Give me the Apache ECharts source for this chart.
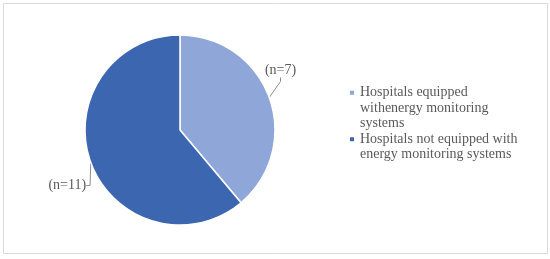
<!DOCTYPE html>
<html>
<head>
<meta charset="utf-8">
<script src="https://cdn.jsdelivr.net/npm/echarts@6/dist/echarts.min.js"></script>
<style>
  html, body { margin: 0; padding: 0; background: #fff; }
  #main { width: 550px; height: 259px; }
</style>
</head>
<body>
<div id="main"></div>
<script>
var myChart = echarts.init(document.getElementById('main'));

// data
var categories = [
  'Hospitals equipped\nwithenergy monitoring\nsystems',
  'Hospitals not equipped with\nenergy monitoring systems'
];
var counts = [7, 11];
var sliceLabels = ['(n=7)', '(n=11)'];
var colors = ['#8FA6D9', '#3D66B0'];

var fontFamily = '"Liberation Serif", serif';
var lineH = 15.5;

var pieData = categories.map(function (name, i) {
  return { name: name, value: counts[i], itemStyle: { color: colors[i] } };
});

// one legend per item; blank lines on top keep the square on the first line
function legendFor(i, top) {
  return {
    orient: 'vertical',
    left: 348,
    top: top,
    padding: 0,
    itemWidth: 6,
    itemHeight: 6,
    icon: 'rect',
    selectedMode: false,
    formatter: function (name) {
      var n = name.split('\n').length;
      var pre = '';
      for (var k = 1; k < n; k++) pre += ' \n';
      return pre + name;
    },
    textStyle: {
      color: '#595959',
      fontFamily: fontFamily,
      fontSize: 14,
      lineHeight: lineH
    },
    data: [categories[i]]
  };
}

// nudge of each slice label away from its default outside spot
var labelShift = [[-19, -25], [10, 21]];

var option = {
  animation: false,
  graphic: [{
    type: 'rect',
    shape: { x: 3.5, y: 3.5, width: 544, height: 250 },
    style: { fill: 'none', stroke: '#D9D9D9', lineWidth: 1 }
  }],
  legend: [legendFor(0, 54), legendFor(1, 116)],
  series: [{
    type: 'pie',
    center: [180, 130],
    radius: 95,
    startAngle: 90,
    clockwise: true,
    data: pieData,
    itemStyle: { borderColor: '#fff', borderWidth: 1.5 },
    label: {
      show: true,
      position: 'outside',
      formatter: function (p) { return sliceLabels[p.dataIndex]; },
      color: '#595959',
      fontFamily: fontFamily,
      fontSize: 14
    },
    labelLine: {
      show: true,
      length: 6,
      length2: 4,
      lineStyle: { color: '#8C8C8C', width: 1 }
    },
    labelLayout: function (p) {
      var s = labelShift[p.dataIndex];
      var r = p.labelRect;
      return {
        x: r.x + r.width / 2 + s[0],
        y: r.y + r.height / 2 + s[1],
        align: 'center',
        verticalAlign: 'middle'
      };
    },
    emphasis: { disabled: true }
  }]
};

myChart.setOption(option);
</script>
</body>
</html>
